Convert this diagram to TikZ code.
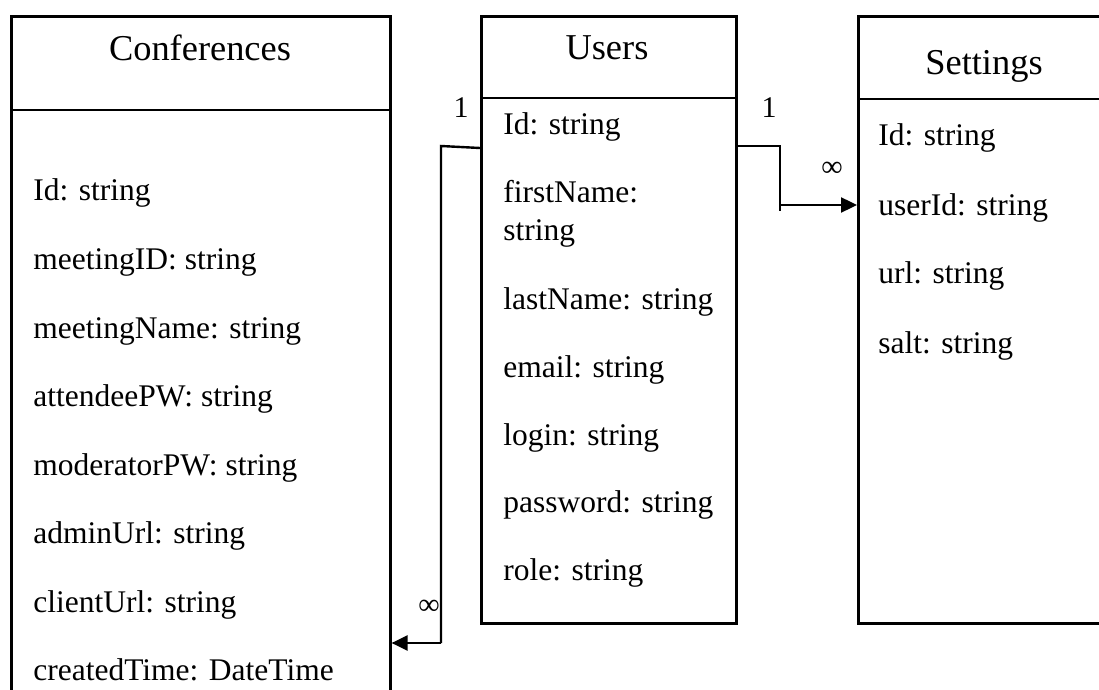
\documentclass[tikz,border=0pt]{standalone}
\usepackage{fontspec}
\setmainfont{Liberation Serif}
\usetikzlibrary{arrows.meta}
\tikzset{
  box/.style={draw, line width=1.3pt, rectangle, inner sep=0pt, anchor=north west},
  sep/.style={line width=1.1pt},
  title/.style={font=\fontsize{18.2pt}{21pt}\selectfont, anchor=base, inner sep=0pt},
  field/.style={font=\fontsize{15.75pt}{19pt}\selectfont, anchor=base west, inner sep=0pt, align=left},
  mult/.style={font=\fontsize{15pt}{18pt}\selectfont, inner sep=0pt},
  conn/.style={line width=1.2pt},
  arr/.style={line width=1.2pt, -{Triangle[length=8pt,width=7.5pt]}}
}
\begin{document}
\begin{tikzpicture}[x=0.5pt,y=-0.5pt]
\useasboundingbox (0,0) rectangle (1099,690);
\clip (0,0) rectangle (1099,690);
% boxes
\node (C) [box, minimum width=189.5pt, minimum height=352.5pt] at (10,15) {};
\node (U) [box, minimum width=127.5pt, minimum height=303.5pt] at (480,15) {};
\node (S) [box, minimum width=129pt, minimum height=303.5pt] at (857,15) {};
% header separators
\coordinate (ch) at (0,110);
\coordinate (uh) at (0,98);
\coordinate (sh) at (0,99);
\draw[sep] (C.west |- ch) -- (C.east |- ch);
\draw[sep] (U.west |- uh) -- (U.east |- uh);
\draw[sep] (S.west |- sh) -- (S.east |- sh);
% titles
\node (ct) [title] at (200,61) {Conferences};
\node (ut) [title] at (607,60) {Users};
\node (st) [title] at (984,75) {Settings};
% Conferences fields
\node (c1) [field] at (33,201) {Id: string};
\node (c2) [field] at (33,269.5) {meetingID: string};
\node (c3) [field] at (33,338) {meetingName: string};
\node (c4) [field] at (33,406.5) {attendeePW: string};
\node (c5) [field] at (33,475) {moderatorPW: string};
\node (c6) [field] at (33,543.5) {adminUrl: string};
\node (c7) [field] at (33,612) {clientUrl: string};
\node (c8) [field] at (33,680.5) {createdTime: DateTime};
% Users fields
\node (u1) [field] at (503,135) {Id: string};
\node (u2) [field] at (503,241) {firstName:\\string};
\node (u3) [field] at (503,309) {lastName: string};
\node (u4) [field] at (503,377) {email: string};
\node (u5) [field] at (503,445) {login: string};
\node (u6) [field] at (503,512) {password: string};
\node (u7) [field] at (503,580) {role: string};
% Settings fields
\node (s1) [field] at (878,146) {Id: string};
\node (s2) [field] at (878,215) {userId: string};
\node (s3) [field] at (878,284) {url: string};
\node (s4) [field] at (878,353) {salt: string};
% connector Users -> Conferences
\coordinate (a0) at (480,148);
\coordinate (a1) at (441,146);
\coordinate (a2) at (441,643);
\draw[conn] (U.west |- a0) -- (a1) -- (a2);
\draw[arr] (a2) -- (C.east |- a2);
\node (m1) [mult] at (461,108) {1};
\node (m2) [mult] at (429,607) {∞};
% connector Users -> Settings
\coordinate (b0) at (735,146);
\coordinate (b1) at (780,146);
\coordinate (b2) at (780,205);
\coordinate (b3) at (780,211);
\draw[conn] (U.east |- b0) -- (b1) -- (b3);
\draw[arr] (b2) -- (S.west |- b2);
\node (m3) [mult] at (769,108) {1};
\node (m4) [mult] at (832,169) {∞};
\end{tikzpicture}
\end{document}
